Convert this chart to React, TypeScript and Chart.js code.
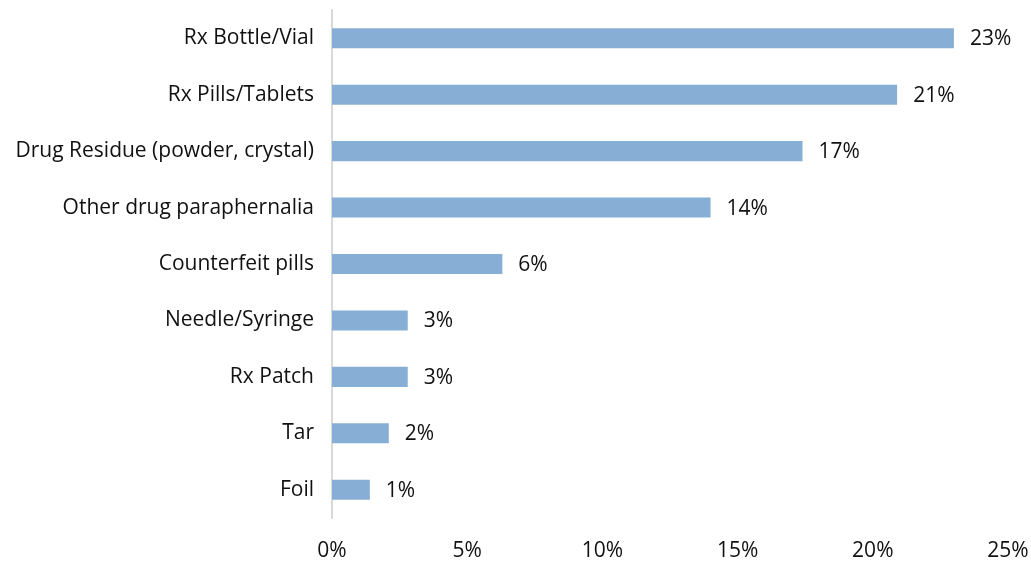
import React, { useEffect, useRef } from "react";
import { Chart, registerables } from "chart.js";

Chart.register(...registerables);

const categories = [
  "Rx Bottle/Vial",
  "Rx Pills/Tablets",
  "Drug Residue (powder, crystal)",
  "Other drug paraphernalia",
  "Counterfeit pills",
  "Needle/Syringe",
  "Rx Patch",
  "Tar",
  "Foil",
];
const values = [23.0, 20.9, 17.4, 14.0, 6.3, 2.8, 2.8, 2.1, 1.4];
const valueLabels = ["23%", "21%", "17%", "14%", "6%", "3%", "3%", "2%", "1%"];
const xTicks = [0, 5, 10, 15, 20, 25];

const FONT = "'Open Sans', sans-serif";
const FSIZE = 21;

export default function App() {
  const ref = useRef<HTMLCanvasElement>(null);
  useEffect(() => {
    document.body.style.margin = "0";
    const labelPlugin = {
      id: "valueLabels",
      afterDatasetsDraw(chart: any) {
        const ctx = chart.ctx;
        const meta = chart.getDatasetMeta(0);
        ctx.save();
        ctx.font = `${FSIZE}px ${FONT}`;
        ctx.fillStyle = "#111";
        ctx.textAlign = "left";
        ctx.textBaseline = "middle";
        meta.data.forEach((bar: any, i: number) => {
          ctx.fillText(valueLabels[i], bar.x + 16, bar.y + 1);
        });
        ctx.restore();
      },
    };
    const chart = new Chart(ref.current!, {
      type: "bar",
      data: {
        labels: categories,
        datasets: [
          {
            data: values,
            backgroundColor: "#87AFD5",
            barPercentage: 0.355,
            categoryPercentage: 1,
          },
        ],
      },
      options: {
        indexAxis: "y",
        animation: false,
        responsive: false,
        maintainAspectRatio: false,
        layout: { padding: { top: 10, right: 23, left: 0, bottom: 0 } },
        plugins: { legend: { display: false }, tooltip: { enabled: false } },
        scales: {
          x: {
            min: 0,
            max: 25,
            afterBuildTicks: (s: any) => {
              s.ticks = xTicks.map((v) => ({ value: v }));
            },
            afterFit: (s: any) => {
              s.height = 45;
              s.paddingLeft = 0;
              s.paddingRight = 0;
            },
            grid: { display: false },
            border: { display: false },
            ticks: {
              color: "#111",
              font: { family: FONT, size: FSIZE },
              padding: 12,
              maxRotation: 0,
              callback: (v: any) => v + "%",
            },
          },
          y: {
            afterFit: (s: any) => {
              s.width = 332;
              s.paddingTop = 0;
              s.paddingBottom = 0;
            },
            grid: { display: false },
            border: { display: true, color: "#D9D9D9", width: 2 },
            ticks: {
              color: "#111",
              font: { family: FONT, size: FSIZE },
              padding: 10,
            },
          },
        },
      },
      plugins: [labelPlugin],
    });
    return () => chart.destroy();
  }, []);
  return (
    <div style={{ width: 1031, height: 563 }}>
      <canvas ref={ref} width={1031} height={563} />
    </div>
  );
}
